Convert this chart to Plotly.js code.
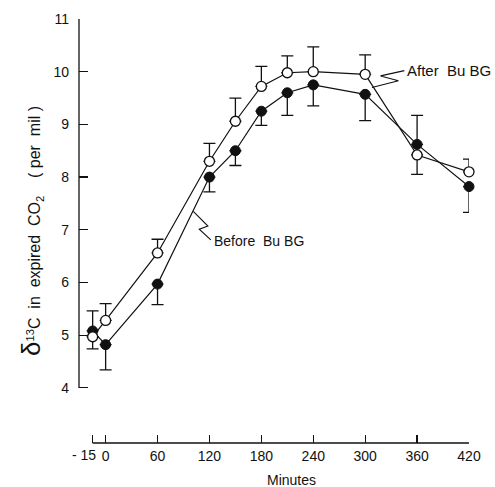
<!DOCTYPE html>
<html>
<head>
<meta charset="utf-8">
<script src="https://cdn.plot.ly/plotly-3.0.1.min.js"></script>
<style>
html,body{margin:0;padding:0;background:#fff;}
#chart{width:495px;height:487px;}
</style>
</head>
<body>
<div id="chart"></div>
<script>
// Minutes
const minutes = [-15, 0, 60, 120, 150, 180, 210, 240, 300, 360, 420];

// After BuBG (open circles)
const afterVals   = [4.97, 5.28, 6.56, 8.30, 9.06, 9.72, 9.98, 10.00, 9.95, 8.42, 8.10];
const afterErrUp  = [0, 0.32, 0.26, 0.34, 0.44, 0.38, 0.32, 0.47, 0.37, 0, 0.24];
const afterErrDn  = [0.23, 0, 0, 0, 0, 0, 0, 0, 0, 0.37, 0];

// Before BuBG (filled circles)
const beforeVals  = [5.08, 4.82, 5.97, 8.00, 8.50, 9.25, 9.60, 9.75, 9.57, 8.62, 7.82];
const beforeErrUp = [0.38, 0, 0, 0, 0, 0, 0, 0, 0, 0.55, 0];
const beforeErrDn = [0, 0.48, 0.39, 0.28, 0.28, 0.27, 0.43, 0.40, 0.50, 0, 0.49];

// Axis ticks (the -15 label is placed separately, right-aligned, so it does not collide with 0)
const xTickVals = [-15, 0, 60, 120, 180, 240, 300, 360, 420];
const xTickText = ['', '0', '60', '120', '180', '240', '300', '360', '420'];
const xFirstTickLabel = '- 15';
const yTickVals = [4, 5, 6, 7, 8, 9, 10, 11];

// Pointer (zig-zag) lines for the labels, in data units
const afterPtrX  = [345.3, 317.8, 338.4, 307.8];
const afterPtrY  = [10.02, 9.92, 9.83, 9.70];
const beforePtrX = [101.3, 118.2, 108.2, 121.6];
const beforePtrY = [7.35, 7.07, 7.01, 6.81];

const FONT = 'Liberation Sans, Arial, sans-serif';
const ink = '#111';

function errY(up, dn) {
  return {type: 'data', symmetric: false, array: up, arrayminus: dn,
          color: ink, thickness: 1.3, width: 6};
}

const traces = [
  {x: beforePtrX, y: beforePtrY, mode: 'lines', line: {color: ink, width: 1.1},
   hoverinfo: 'skip', showlegend: false, cliponaxis: false},
  {x: afterPtrX, y: afterPtrY, mode: 'lines', line: {color: ink, width: 1.1},
   hoverinfo: 'skip', showlegend: false, cliponaxis: false},
  {x: minutes, y: beforeVals, name: 'Before BuBG', mode: 'lines+markers',
   line: {color: ink, width: 1.2},
   marker: {symbol: 'circle', size: 10, color: ink, line: {color: ink, width: 1}},
   error_y: errY(beforeErrUp, beforeErrDn), cliponaxis: false},
  {x: minutes, y: afterVals, name: 'After BuBG', mode: 'lines+markers',
   line: {color: ink, width: 1.2},
   marker: {symbol: 'circle', size: 10, color: '#fff', line: {color: ink, width: 1.3}},
   error_y: errY(afterErrUp, afterErrDn), cliponaxis: false}
];

const layout = {
  width: 495, height: 487,
  margin: {l: 79, r: 26, t: 19, b: 44, pad: 0},
  paper_bgcolor: '#fff', plot_bgcolor: '#fff',
  showlegend: false,
  font: {family: FONT, size: 14, color: ink},
  xaxis: {
    range: [-30.78, 420],
    showgrid: false, zeroline: false, showline: false,
    ticks: 'inside', ticklen: 8, tickwidth: 1.2, tickcolor: ink,
    tickvals: xTickVals, ticktext: xTickText, tickangle: 0, ticklabelstandoff: 3,
    tickfont: {family: FONT, size: 14, color: ink}
  },
  yaxis: {
    range: [2.954, 11],
    showgrid: false, zeroline: false, showline: false,
    ticks: 'inside', ticklen: 9, tickwidth: 1.2, tickcolor: ink,
    tickvals: yTickVals, ticklabelstandoff: 9,
    tickfont: {family: FONT, size: 14, color: ink},
    title: {text: '<span style="font-size:26px">δ</span><sup>13</sup>C\u00a0 in\u00a0 expired\u00a0 CO<sub>2</sub>\u00a0\u00a0\u00a0 (\u00a0per\u00a0 mil\u00a0)',
            font: {family: FONT, size: 16, color: ink}, standoff: 8}
  },
  shapes: [
    {type: 'line', xref: 'paper', x0: 0, x1: 0, yref: 'y', y0: 4, y1: 11,
     line: {color: ink, width: 1.3}},
    {type: 'line', xref: 'x', x0: -15, x1: 420, yref: 'paper', y0: 0, y1: 0,
     line: {color: ink, width: 1.3}}
  ],
  annotations: [
    {x: xTickVals[0], y: 0, xref: 'x', yref: 'paper', text: xFirstTickLabel, showarrow: false,
     xanchor: 'right', yanchor: 'top', xshift: 4, yshift: -3, borderpad: 0,
     font: {family: FONT, size: 14, color: ink}},
    {x: 346, y: 10.02, xref: 'x', yref: 'y', text: 'After\u00a0 Bu\u00a0BG', showarrow: false,
     xanchor: 'left', yanchor: 'middle', font: {family: FONT, size: 15, color: ink}},
    {x: 123, y: 6.79, xref: 'x', yref: 'y', text: 'Before\u00a0 Bu\u00a0BG', showarrow: false,
     xanchor: 'left', yanchor: 'middle', font: {family: FONT, size: 14, color: ink}},
    {x: 215, y: -0.087, xref: 'x', yref: 'paper', text: 'Minutes', showarrow: false,
     xanchor: 'center', yanchor: 'middle', font: {family: FONT, size: 14, color: ink}}
  ]
};

Plotly.newPlot('chart', traces, layout, {staticPlot: true, displayModeBar: false});
</script>
</body>
</html>
